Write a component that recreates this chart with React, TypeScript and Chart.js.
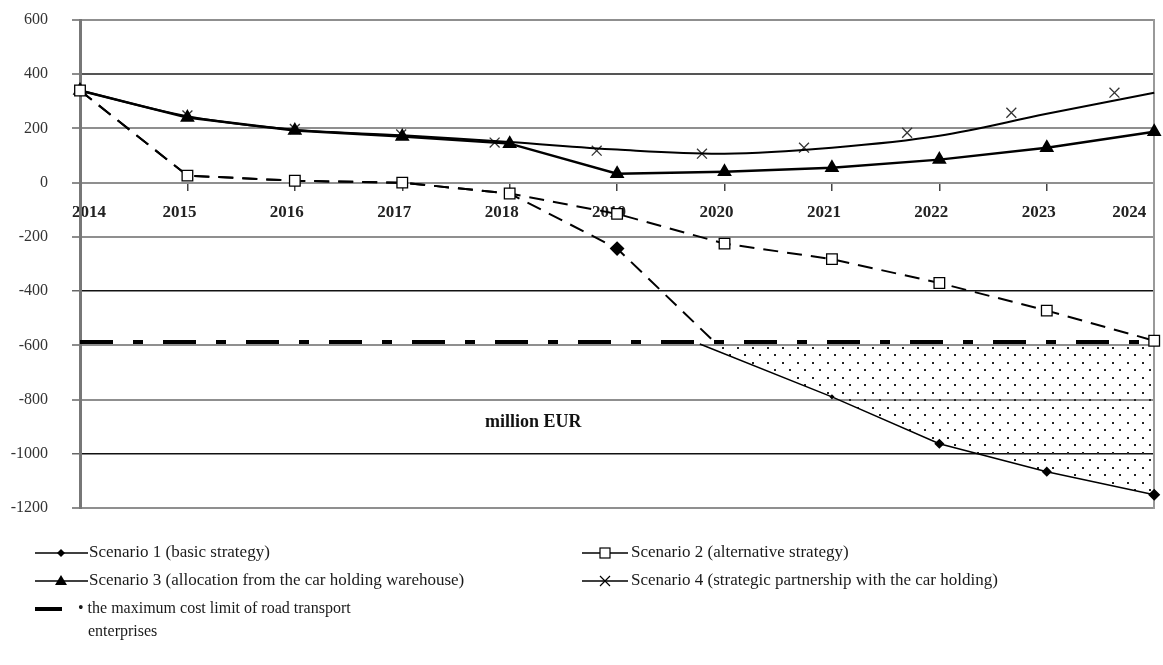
import React, { useEffect, useRef } from "react";
import { Chart, registerables } from "chart.js";

Chart.register(...registerables);

// ---------- data ----------
const years = [2014, 2015, 2016, 2017, 2018, 2019, 2020, 2021, 2022, 2023, 2024];

const scenario1Years = [2014, 2015, 2016, 2017, 2018, 2019, 2019.9];
const scenario1Values = [340, 26, 7, 0, -40, -243, -585];

const scenario1TailYears = [2019.77, 2021, 2022, 2023, 2024];
const scenario1TailValues = [-595, -790, -963, -1066, -1151];

const scenario2Values = [340, 26, 7, 0, -40, -115, -225, -282, -370, -472, -583];
const scenario3Values = [340, 240, 192, 170, 144, 33, 40, 55, 85, 129, 188];
const scenario4Values = [340, 245, 195, 175, 150, 122, 107, 129, 173, 254, 332];

const scenario4MarkerYears = [2014, 2015, 2016, 2016.99, 2017.86, 2018.81, 2019.79, 2020.74, 2021.7, 2022.67, 2023.63];
const scenario4MarkerValues = [340, 248, 198, 178, 148, 118, 107, 129, 184, 258, 332];

const costLimit = -588;
const costLimitFloor = -600;

const yMin = -1200;
const yMax = 600;
const yStep = 200;

const unitLabel = "million EUR";
const unitLabelAt = { x: 2018.22, y: -885 };

const legendScenario1 = "Scenario 1 (basic strategy)";
const legendScenario2 = "Scenario 2 (alternative strategy)";
const legendScenario3 = "Scenario 3 (allocation from the car holding warehouse)";
const legendScenario4 = "Scenario 4 (strategic partnership with the car holding)";
const legendLimit1 = "• the maximum cost limit of road transport";
const legendLimit2 = "enterprises";

const SERIF = '"Liberation Serif", "Times New Roman", serif';

function pts(xs: number[], ys: number[]) {
  return xs.map((x, i) => ({ x, y: ys[i] }));
}

function makeDotPattern(): CanvasPattern | string {
  const c = document.createElement("canvas");
  c.width = 15;
  c.height = 15;
  const g = c.getContext("2d");
  if (!g) return "rgba(0,0,0,0.1)";
  g.fillStyle = "#222";
  g.fillRect(2, 2, 2, 2);
  g.fillRect(9, 9, 2, 2);
  return g.createPattern(c, "repeat") || "rgba(0,0,0,0.1)";
}

const decorPlugin = {
  id: "decor",
  afterDatasetsDraw(chart: any) {
    const { ctx, scales } = chart;
    ctx.save();
    ctx.fillStyle = "#111";
    ctx.font = `bold 18px ${SERIF}`;
    ctx.textAlign = "center";
    ctx.textBaseline = "middle";
    ctx.fillText(unitLabel, scales.x.getPixelForValue(unitLabelAt.x), scales.y.getPixelForValue(unitLabelAt.y));
    ctx.restore();
  },
  afterDraw(chart: any) {
    const ctx: CanvasRenderingContext2D = chart.ctx;
    ctx.save();
    ctx.strokeStyle = "#000";
    ctx.fillStyle = "#000";
    ctx.lineWidth = 1.5;
    const line = (x1: number, x2: number, y: number, w = 1.5) => {
      ctx.lineWidth = w;
      ctx.beginPath();
      ctx.moveTo(x1, y);
      ctx.lineTo(x2, y);
      ctx.stroke();
    };
    const r1 = 553, r2 = 581, r3 = 609, r4 = 632;
    // row 1 left: diamond
    line(35, 88, r1);
    ctx.beginPath();
    ctx.moveTo(61, r1 - 4);
    ctx.lineTo(65, r1);
    ctx.lineTo(61, r1 + 4);
    ctx.lineTo(57, r1);
    ctx.closePath();
    ctx.fill();
    // row 1 right: square
    line(582, 628, r1);
    ctx.fillStyle = "#fff";
    ctx.fillRect(600, r1 - 5, 10, 10);
    ctx.lineWidth = 1.2;
    ctx.strokeRect(600, r1 - 5, 10, 10);
    ctx.fillStyle = "#000";
    // row 2 left: triangle
    line(35, 88, r2);
    ctx.beginPath();
    ctx.moveTo(61, r2 - 6);
    ctx.lineTo(67, r2 + 4);
    ctx.lineTo(55, r2 + 4);
    ctx.closePath();
    ctx.fill();
    // row 2 right: cross
    line(582, 628, r2);
    ctx.lineWidth = 1.2;
    ctx.beginPath();
    ctx.moveTo(600, r2 - 5);
    ctx.lineTo(610, r2 + 5);
    ctx.moveTo(610, r2 - 5);
    ctx.lineTo(600, r2 + 5);
    ctx.stroke();
    // row 3: thick dash
    line(35, 62, r3, 4);

    ctx.fillStyle = "#1a1a1a";
    ctx.textAlign = "left";
    ctx.textBaseline = "middle";
    ctx.font = `17px ${SERIF}`;
    ctx.fillText(legendScenario1, 89, r1);
    ctx.fillText(legendScenario3, 89, r2);
    ctx.fillText(legendScenario2, 631, r1);
    ctx.fillText(legendScenario4, 631, r2);
    ctx.font = `16px ${SERIF}`;
    ctx.fillText(legendLimit1, 78, r3);
    ctx.fillText(legendLimit2, 88, r4);
    ctx.restore();
  },
};

export default function App() {
  const ref = useRef<HTMLCanvasElement | null>(null);

  useEffect(() => {
    document.body.style.margin = "0";
    const canvas = ref.current;
    if (!canvas) return;
    const dots = makeDotPattern();

    const chart = new Chart(canvas, {
      type: "line",
      data: {
        datasets: [
          {
            label: "Scenario 2",
            data: pts(years, scenario2Values),
            borderColor: "#000",
            borderWidth: 2,
            borderDash: [15, 9],
            pointStyle: "rect",
            pointRadius: 7.5,
            pointBackgroundColor: "#fff",
            pointBorderColor: "#000",
            pointBorderWidth: 1.3,
            fill: false,
            clip: false,
          },
          {
            label: "Scenario 1",
            data: pts(scenario1Years, scenario1Values),
            borderColor: "#000",
            borderWidth: 2,
            borderDash: [15, 9],
            pointStyle: "rectRot",
            pointRadius: [0, 0, 0, 0, 0, 6, 0],
            pointBackgroundColor: "#000",
            pointBorderColor: "#000",
            fill: false,
            clip: false,
          },
          {
            label: "Scenario 3",
            data: pts(years, scenario3Values),
            borderColor: "#000",
            borderWidth: 2.5,
            pointStyle: "triangle",
            pointRadius: 6,
            pointBackgroundColor: "#000",
            pointBorderColor: "#000",
            fill: false,
            clip: false,
          },
          {
            label: "Scenario 4",
            data: pts(years, scenario4Values),
            borderColor: "#000",
            borderWidth: 2,
            tension: 0.35,
            pointRadius: 0,
            fill: false,
            clip: false,
          },
          {
            label: "Scenario 4 markers",
            data: pts(scenario4MarkerYears, scenario4MarkerValues),
            showLine: false,
            pointStyle: "crossRot",
            pointRadius: 7,
            pointBorderColor: "#333",
            pointBorderWidth: 1.3,
            clip: false,
          },
          {
            label: "Limit",
            data: pts([years[0], years[years.length - 1]], [costLimit, costLimit]),
            borderColor: "#000",
            borderWidth: 4,
            borderDash: [33, 20, 10, 20],
            pointRadius: 0,
            fill: false,
            clip: false,
          },
          {
            label: "Scenario 1 tail",
            data: pts(scenario1TailYears, scenario1TailValues),
            borderColor: "#000",
            borderWidth: 1.5,
            pointStyle: "rectRot",
            pointRadius: [0, 1.5, 4, 4, 5],
            pointBackgroundColor: "#000",
            pointBorderColor: "#000",
            backgroundColor: dots as any,
            fill: { value: costLimitFloor } as any,
            clip: false,
          },
        ],
      },
      options: {
        responsive: false,
        animation: false,
        devicePixelRatio: 1,
        events: [],
        layout: { padding: { top: 20, left: 0, right: 4, bottom: 157 } },
        plugins: {
          legend: { display: false },
          tooltip: { enabled: false },
        },
        scales: {
          x: {
            type: "linear",
            min: 2014,
            max: 2024,
            position: { y: 0 } as any,
            ticks: {
              stepSize: 1,
              callback: (v: any) => String(v),
              font: { family: SERIF, size: 17, weight: "bold" },
              color: "#222",
              align: "inner",
              labelOffset: -8,
              padding: 12,
              maxRotation: 0,
              autoSkip: false,
            },
            grid: {
              drawOnChartArea: false,
              drawTicks: true,
              tickLength: 8,
              color: "#444",
              lineWidth: 1.5,
            },
            border: { display: false },
            afterFit: (s: any) => {
              s.paddingLeft = 0;
              s.paddingRight = 0;
            },
          },
          y: {
            type: "linear",
            position: "left",
            min: yMin,
            max: yMax,
            ticks: {
              stepSize: yStep,
              callback: (v: any) => String(v),
              font: { family: SERIF, size: 16 },
              color: "#333",
              padding: 24,
            },
            grid: {
              color: (c: any) => {
                const v = c.tick && c.tick.value;
                if (v === -400 || v === -1000) return "#111";
                if (v === 400) return "#555";
                return "#8f8f8f";
              },
              lineWidth: (c: any) => {
                const v = c.tick && c.tick.value;
                return v === -400 || v === -1000 ? 1.5 : 2;
              },
              tickLength: 8,
              tickColor: "#666",
              tickWidth: 1.5,
            },
            border: { color: "#777", width: 3 },
            afterFit: (s: any) => {
              s.width = 80;
              s.paddingTop = 0;
              s.paddingBottom = 0;
            },
          },
          y2: {
            type: "linear",
            position: "right",
            min: yMin,
            max: yMax,
            display: true,
            ticks: { display: false },
            grid: { display: false, drawTicks: false },
            border: { color: "#999", width: 2 },
            afterFit: (s: any) => {
              s.width = 0;
              s.paddingTop = 0;
              s.paddingBottom = 0;
            },
          },
        },
      },
      plugins: [decorPlugin],
    } as any);

    return () => chart.destroy();
  }, []);

  return (
    <div style={{ width: 1163, height: 665, background: "#fff" }}>
      <canvas ref={ref} width={1163} height={665} style={{ display: "block" }} />
    </div>
  );
}
